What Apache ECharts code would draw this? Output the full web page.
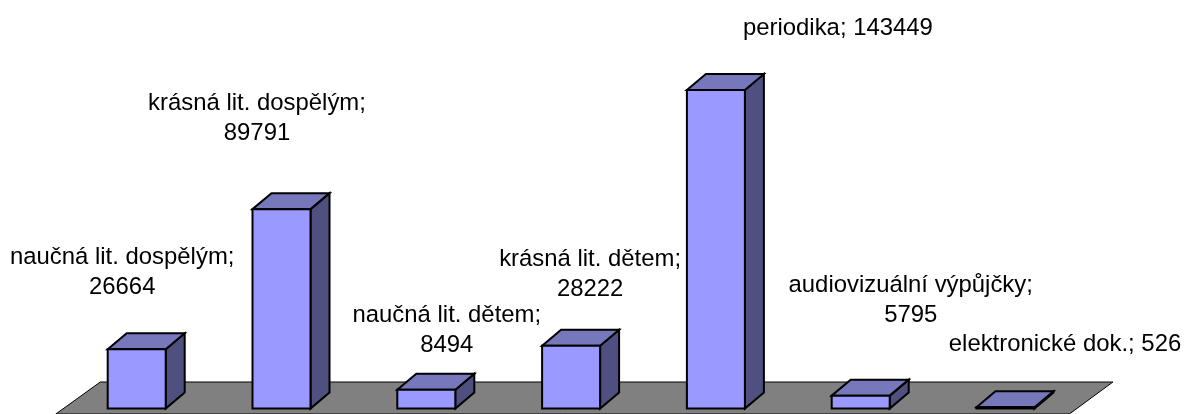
<!DOCTYPE html>
<html>
<head>
<meta charset="utf-8">
<script src="https://cdn.jsdelivr.net/npm/echarts@6/dist/echarts.min.js"></script>
<style>
  html, body { margin: 0; padding: 0; background: #fff; }
  #chart { width: 1184px; height: 414px; }
</style>
</head>
<body>
<div id="chart"></div>
<script>
  var categories = ['naučná lit. dospělým', 'krásná lit. dospělým', 'naučná lit. dětem', 'krásná lit. dětem', 'periodika', 'audiovizuální výpůjčky', 'elektronické dok.'];
  var values = [26664, 89791, 8494, 28222, 143449, 5795, 526];
  // label placement, relative to the top of each bar's front face
  var labelWrap = [true, true, true, true, false, true, false];
  var labelDx = [-14.5, -24.5, 20.5, 19, 122, 50, 59.5];
  var labelDy = [-76.5, -90.5, -59.5, -71.5, -62, -95.5, -63];

  var DEPTH_X = 19;
  var DEPTH_Y = 16;
  var BAR_W = 58;
  var LINE = { stroke: '#000', lineWidth: 2, lineJoin: 'miter' };

  function face(points, fill) {
    return { type: 'polygon', shape: { points: points }, style: Object.assign({ fill: fill }, LINE) };
  }

  function renderBar(params, api) {
    var i = api.value(0);
    var top = api.coord([i, api.value(1)]);
    var base = api.coord([i, 0]);
    var l = top[0] - BAR_W / 2, r = top[0] + BAR_W / 2;
    var t = top[1], b = base[1];
    var value = values[i];
    var text = categories[i] + ';' + (labelWrap[i] ? '\n' : ' ') + value;
    return {
      type: 'group',
      children: [
        face([[r, t], [r + DEPTH_X, t - DEPTH_Y], [r + DEPTH_X, b - DEPTH_Y], [r, b]], '#4f4f80'),
        face([[l, t], [l + DEPTH_X, t - DEPTH_Y], [r + DEPTH_X, t - DEPTH_Y], [r, t]], '#7777bb'),
        face([[l, t], [r, t], [r, b], [l, b]], '#9999ff'),
        {
          type: 'text',
          x: top[0] + labelDx[i],
          y: t + labelDy[i],
          style: {
            text: text,
            fill: '#000',
            font: '23.9px "Liberation Sans", Arial, sans-serif',
            lineHeight: 30,
            align: 'center',
            verticalAlign: 'middle'
          }
        }
      ]
    };
  }

  // gray floor under the bars
  function renderFloor(params, api) {
    var base = api.coord([0, 0])[1];
    var cs = params.coordSys;
    var topY = base - 26.5;
    var botY = base + 5.5;
    return {
      type: 'polygon',
      shape: { points: [[cs.x - 8.5, botY], [cs.x + 36, topY], [cs.x + cs.width + 35, topY], [cs.x + cs.width - 8.5, botY]] },
      style: { fill: '#808080', stroke: '#000', lineWidth: 1 }
    };
  }

  var chart = echarts.init(document.getElementById('chart'), null, { renderer: 'canvas' });
  chart.setOption({
    animation: false,
    backgroundColor: '#fff',
    grid: { left: 64.3, top: 90, width: 1013.6, height: 318.5 },
    xAxis: { type: 'category', data: categories, show: false },
    yAxis: { type: 'value', min: 0, max: 143449, show: false },
    series: [
      {
        type: 'custom',
        clip: false,
        z: 1,
        renderItem: renderFloor,
        data: [[0, 0]],
        encode: { x: 0, y: 1 }
      },
      {
        type: 'custom',
        clip: false,
        z: 2,
        renderItem: renderBar,
        data: values.map(function (v, i) { return [i, v]; }),
        encode: { x: 0, y: 1 }
      }
    ]
  });
</script>
</body>
</html>
